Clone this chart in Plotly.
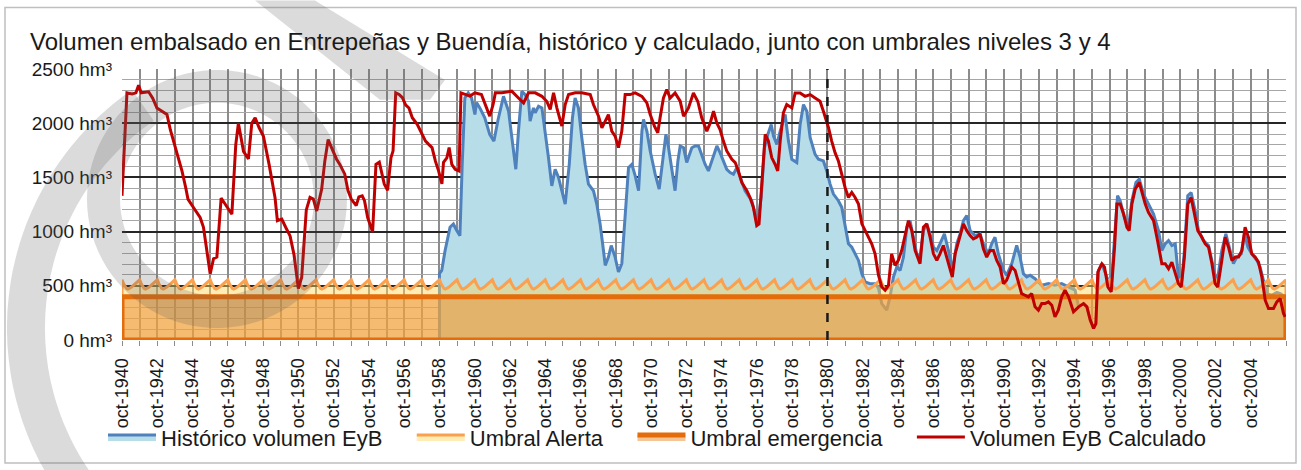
import math
import plotly.graph_objects as go

titulo = "Volumen embalsado en Entrepeñas y Buendía, histórico y calculado, junto con umbrales niveles 3 y 4"

# fechas en años decimales (oct = .75)
anos_calc = [1940.75, 1941.03, 1941.32, 1941.54, 1941.69, 1941.84, 1942.26, 1942.49, 1942.73, 1943.01,
             1943.30, 1943.49, 1943.86, 1944.15, 1944.37, 1944.49, 1944.81, 1945.18, 1945.37, 1945.56,
             1945.75, 1945.94, 1946.13, 1946.37, 1946.60, 1946.98, 1947.20, 1947.35, 1947.64, 1947.92,
             1948.11, 1948.30, 1948.52, 1948.77, 1949.09, 1949.43, 1949.56, 1949.81, 1950.03, 1950.28,
             1950.50, 1950.75, 1950.94, 1951.20, 1951.41, 1951.60, 1951.79, 1952.07, 1952.25, 1952.44,
             1952.63, 1952.91, 1953.10, 1953.38, 1953.56, 1953.75, 1954.03, 1954.18, 1954.37, 1954.50,
             1954.68, 1954.96, 1955.15, 1955.34, 1955.62, 1955.81, 1956.00, 1956.12, 1956.27, 1956.46,
             1956.65, 1956.83, 1957.02, 1957.21, 1957.49, 1957.68, 1957.96, 1958.14, 1958.33, 1958.52,
             1958.70, 1958.89, 1958.98, 1959.17, 1959.30, 1959.45, 1959.64, 1959.86, 1959.97, 1960.48,
             1960.76, 1961.13, 1961.41, 1961.60, 1961.79, 1961.92, 1962.29, 1962.85, 1963.23, 1963.52,
             1963.80, 1964.18, 1964.56, 1964.84, 1965.03, 1965.22, 1965.41, 1965.69, 1965.88, 1966.07,
             1966.45, 1966.82, 1967.30, 1967.48, 1967.77, 1967.96, 1968.15, 1968.33, 1968.52, 1968.71,
             1968.90, 1969.09, 1969.28, 1969.56, 1969.85, 1970.23, 1970.51, 1970.70, 1970.94, 1971.13,
             1971.26, 1971.45, 1971.64, 1971.83, 1972.11, 1972.40, 1972.59, 1972.87, 1973.15, 1973.40,
             1973.62, 1973.91, 1974.10, 1974.29, 1974.48, 1974.66, 1974.85, 1975.04, 1975.33, 1975.52,
             1975.70, 1975.89, 1976.18, 1976.36, 1976.55, 1976.74, 1976.87, 1977.06, 1977.22, 1977.40,
             1977.59, 1977.78, 1977.93, 1978.07, 1978.25, 1978.44, 1978.73, 1978.92, 1979.20, 1979.48,
             1979.77, 1980.05, 1980.33, 1980.52, 1980.81, 1980.99, 1981.18, 1981.37, 1981.56, 1981.75,
             1981.94, 1982.13, 1982.32, 1982.51, 1982.70, 1982.98, 1983.26, 1983.45, 1983.64, 1983.83,
             1984.02, 1984.21, 1984.39, 1984.58, 1984.77, 1984.96, 1985.15, 1985.34, 1985.53, 1985.72,
             1986.00, 1986.19, 1986.38, 1986.57, 1986.76, 1986.95, 1987.13, 1987.32, 1987.51, 1987.70,
             1987.83, 1987.99, 1988.27, 1988.46, 1988.65, 1988.84, 1989.02, 1989.21, 1989.40, 1989.59,
             1989.78, 1989.97, 1990.16, 1990.35, 1990.54, 1990.73, 1990.91, 1991.20, 1991.39, 1991.58,
             1991.76, 1991.95, 1992.14, 1992.33, 1992.52, 1992.71, 1992.90, 1993.09, 1993.28, 1993.47,
             1993.65, 1993.84, 1994.03, 1994.22, 1994.42, 1994.70, 1994.99, 1995.27, 1995.46, 1995.65,
             1995.84, 1995.97, 1996.08, 1996.31, 1996.46, 1996.65, 1996.84, 1997.03, 1997.16, 1997.35,
             1997.54, 1997.73, 1997.86, 1998.01, 1998.20, 1998.43, 1998.61, 1998.77, 1998.95, 1999.24,
             1999.43, 1999.62, 1999.71, 1999.90, 2000.09, 2000.28, 2000.47, 2000.65, 2000.81, 2000.99,
             2001.18, 2001.37, 2001.56, 2001.75, 2001.98, 2002.17, 2002.36, 2002.55, 2002.73, 2002.88,
             2003.11, 2003.30, 2003.49, 2003.68, 2003.87, 2004.06, 2004.25, 2004.43, 2004.62, 2004.81,
             2005.00, 2005.19, 2005.38, 2005.57, 2005.76, 2006.04, 2006.23, 2006.42, 2006.61, 2006.70]
vol_calc = [1330, 2280, 2270, 2280, 2350, 2280, 2290, 2230, 2140, 2110,
            2080, 1940, 1740, 1560, 1400, 1300, 1220, 1130, 1040, 800,
            610, 750, 765, 1310, 1250, 1160, 1800, 2000, 1740, 1670,
            2000, 2050, 1960, 1880, 1620, 1310, 1100, 1115, 1040, 960,
            790, 475, 580, 1200, 1315, 1300, 1190, 1390, 1650, 1850,
            1775, 1670, 1620, 1530, 1380, 1300, 1240, 1320, 1330, 1285,
            1130, 995, 1620, 1640, 1440, 1380, 1680, 1745, 2280, 2265,
            2235, 2170, 2140, 2050, 1990, 1930, 1835, 1805, 1775, 1650,
            1560, 1440, 1640, 1680, 1775, 1620, 1575, 1560, 2280, 2250,
            2280, 2265, 2140, 2065, 2170, 2280, 2280, 2295, 2233, 2187,
            2280, 2280, 2248, 2200, 2126, 2280, 2140, 1973, 2172, 2264,
            2280, 2280, 2264, 2172, 2065, 1958, 2019, 2080, 1927, 1881,
            1774, 1927, 2264, 2264, 2280, 2248, 2187, 2080, 1973, 1912,
            2050, 2233, 2310, 2233, 2280, 2203, 2065, 2141, 2279, 2200,
            2050, 1927, 2000, 2110, 2000, 1942, 1835, 1744, 1667, 1637,
            1560, 1453, 1377, 1315, 1224, 1055, 1070, 1530, 1897, 1835,
            1683, 1621, 1560, 1835, 2096, 2172, 2141, 2279, 2279, 2248,
            2264, 2233, 2203, 2110, 1958, 1835, 1728, 1652, 1530, 1407,
            1315, 1361, 1315, 1254, 1071, 979, 887, 795, 600, 489,
            459, 505, 795, 688, 734, 826, 979, 1101, 1009, 826,
            704, 1040, 1071, 948, 795, 734, 795, 872, 765, 642,
            581, 795, 948, 1071, 1009, 963, 933, 948, 979, 841,
            765, 826, 826, 734, 673, 520, 551, 673, 642, 520,
            428, 413, 398, 428, 306, 275, 336, 336, 352, 321,
            214, 275, 398, 459, 398, 260, 306, 336, 306, 184,
            107, 150, 627, 704, 673, 489, 444, 856, 1254, 1254,
            1162, 1040, 1009, 1254, 1392, 1453, 1346, 1254, 1178, 1101,
            948, 795, 704, 704, 658, 719, 612, 520, 489, 765,
            1254, 1315, 1162, 1009, 948, 887, 856, 704, 520, 489,
            734, 948, 856, 734, 765, 765, 826, 1040, 948, 795,
            765, 719, 581, 367, 291, 291, 352, 382, 245, 214]

anos_hist = [1958.75, 1958.88, 1959.07, 1959.35, 1959.54, 1959.73, 1959.91, 1960.04, 1960.19, 1960.38,
             1960.57, 1960.76, 1960.85, 1961.04, 1961.32, 1961.60, 1961.84, 1962.07, 1962.38, 1962.67,
             1962.95, 1963.08, 1963.23, 1963.42, 1963.61, 1963.80, 1963.89, 1964.08, 1964.18, 1964.37,
             1964.56, 1964.74, 1964.93, 1965.12, 1965.31, 1965.50, 1965.69, 1965.88, 1966.11, 1966.29,
             1966.44, 1966.63, 1966.82, 1967.01, 1967.20, 1967.48, 1967.67, 1967.86, 1968.05, 1968.15,
             1968.33, 1968.49, 1968.71, 1968.90, 1969.09, 1969.32, 1969.47, 1969.66, 1969.85, 1970.04,
             1970.23, 1970.32, 1970.51, 1970.70, 1970.98, 1971.21, 1971.45, 1971.59, 1971.74, 1971.92,
             1972.11, 1972.27, 1972.40, 1972.59, 1972.77, 1973.06, 1973.25, 1973.44, 1973.62, 1973.81,
             1974.00, 1974.19, 1974.48, 1974.66, 1974.85, 1975.04, 1975.23, 1975.42, 1975.61, 1975.80,
             1976.08, 1976.27, 1976.46, 1976.65, 1976.80, 1976.99, 1977.18, 1977.37, 1977.56, 1977.69,
             1977.88, 1978.07, 1978.35, 1978.54, 1978.73, 1979.01, 1979.20, 1979.39, 1979.58, 1979.77,
             1980.05, 1980.24, 1980.52, 1980.71, 1980.90, 1981.09, 1981.37, 1981.56, 1981.75, 1981.94,
             1982.13, 1982.32, 1982.51, 1982.70, 1982.89, 1983.17, 1983.45, 1983.64, 1983.83, 1984.11,
             1984.30, 1984.49, 1984.68, 1984.87, 1985.06, 1985.25, 1985.43, 1985.62, 1985.81, 1986.00,
             1986.19, 1986.38, 1986.57, 1986.76, 1986.95, 1987.13, 1987.38, 1987.61, 1987.83, 1988.08,
             1988.27, 1988.46, 1988.65, 1988.84, 1989.12, 1989.40, 1989.59, 1989.87, 1990.06, 1990.25,
             1990.44, 1990.73, 1990.91, 1991.20, 1991.48, 1991.67, 1991.86, 1992.05, 1992.24, 1992.52,
             1992.90, 1993.28, 1993.65, 1994.03, 1994.41, 1994.79, 1994.99, 1995.27, 1995.46, 1995.65,
             1995.84, 1995.97, 1996.12, 1996.31, 1996.59, 1996.84, 1997.03, 1997.20, 1997.35, 1997.59,
             1997.82, 1998.01, 1998.24, 1998.43, 1998.67, 1998.95, 1999.24, 1999.52, 1999.71, 1999.90,
             2000.09, 2000.28, 2000.47, 2000.65, 2000.81, 2000.99, 2001.18, 2001.37, 2001.60, 2001.79,
             2002.07, 2002.36, 2002.64, 2002.83, 2003.11, 2003.34, 2003.58, 2003.77, 2003.96, 2004.21,
             2004.40, 2004.59, 2004.81, 2005.10, 2005.28, 2005.47, 2005.66, 2005.94, 2006.23, 2006.42,
             2006.70]
vol_hist = [612, 642, 826, 1040, 1070, 1010, 963, 1621, 2233, 2279,
            2233, 2080, 2190, 2141, 2050, 1897, 1835, 2030, 2248, 2110,
            1774, 1575, 1927, 2294, 2264, 2203, 2019, 2141, 2096, 2157,
            2141, 1927, 1683, 1422, 1575, 1500, 1377, 1254, 1621, 2050,
            2233, 2141, 1866, 1621, 1438, 1377, 1254, 1071, 826, 688,
            765, 872, 765, 627, 704, 1254, 1590, 1621, 1514, 1377,
            1927, 2034, 1927, 1744, 1530, 1392, 1683, 1897, 1774, 1560,
            1377, 1652, 1790, 1774, 1637, 1774, 1790, 1790, 1713, 1621,
            1560, 1652, 1790, 1728, 1652, 1575, 1545, 1530, 1590, 1500,
            1377, 1330, 1285, 1162, 1071, 1315, 1774, 1897, 1988, 1881,
            1805, 1927, 2080, 1835, 1667, 1637, 1988, 2172, 2110, 1866,
            1713, 1667, 1652, 1560, 1438, 1346, 1285, 1224, 1071, 887,
            856, 795, 734, 612, 535, 520, 520, 480, 336, 275,
            398, 581, 673, 642, 765, 1040, 1101, 948, 795, 765,
            1009, 1071, 979, 856, 826, 887, 979, 826, 642, 887,
            979, 1101, 1147, 1009, 963, 979, 887, 795, 887, 948,
            795, 642, 597, 704, 872, 765, 612, 581, 597, 566,
            505, 520, 505, 520, 490, 460, 306, 336, 306, 184,
            107, 150, 642, 704, 581, 489, 948, 1331, 1285, 1132,
            1040, 1285, 1453, 1484, 1346, 1254, 1162, 1009, 826, 887,
            918, 872, 887, 581, 489, 826, 1331, 1361, 1193, 1009,
            918, 872, 642, 520, 826, 979, 826, 704, 765, 795,
            979, 856, 795, 734, 673, 551, 428, 413, 440, 428,
            398]

# umbral de alerta: valores mensuales de oct a sep (se repiten cada año hidrológico)
umbral_alerta_mensual = [555, 522, 492, 476, 470, 474, 484, 495, 507, 520, 533, 546]
umbral_emergencia = 400
inicio, fin = 1940.75, 2006.75
fecha_corte = 1980.75
y_ticks = [0, 500, 1000, 1500, 2000, 2500]
x_label_years = list(range(1940, 2005, 2))
nombres = ["Histórico volumen EyB", "Umbral Alerta", "Umbral emergencia", "Volumen EyB Calculado"]

FONT = "Liberation Sans, Arial, sans-serif"
PAD = "\u00a0" * 4  # separación extra entre elementos de la leyenda

fig = go.Figure()

# Histórico (área azul)
fig.add_trace(go.Scatter(
    x=[anos_hist[0]] + anos_hist + [anos_hist[-1], anos_hist[0]],
    y=[0] + vol_hist + [0, 0],
    mode="lines", fill="toself", fillcolor="#B7DDE8",
    line=dict(color="#4F81BD", width=3), name=nombres[0] + PAD,
))

# Umbral alerta (área amarilla)
n_meses = int(round((fin - inicio) * 12))
ax = [inicio + k / 12 for k in range(n_meses + 1)]
ay = [umbral_alerta_mensual[k % 12] for k in range(n_meses + 1)]
fig.add_trace(go.Scatter(
    x=[inicio] + ax + [fin, inicio], y=[0] + ay + [0, 0],
    mode="lines", fill="toself", fillcolor="rgba(255,215,90,0.45)",
    line=dict(color="#FBA04F", width=3), name=nombres[1] + PAD,
))

# Umbral emergencia (área naranja)
fig.add_trace(go.Scatter(
    x=[inicio, inicio, fin, fin, inicio],
    y=[0, umbral_emergencia, umbral_emergencia, 0, 0],
    mode="lines", fill="toself", fillcolor="rgba(235,140,45,0.5)",
    line=dict(color="#E46C0A", width=5), name=nombres[2] + PAD,
))

# Calculado
fig.add_trace(go.Scatter(
    x=anos_calc, y=vol_calc, mode="lines",
    line=dict(color="#C00000", width=3), name=nombres[3],
))

# ---- marca de agua (decoración en píxeles -> coordenadas de papel)
L, R, T, B = 122, 1286, 69, 342
def px2paper(px, py):
    return (px - L) / (R - L), (B - py) / (B - T)

def ring_path(cx, cy, r1, r2, a0=0, a1=360, n=90):
    pts = []
    for i in range(n + 1):
        a = math.radians(a0 + (a1 - a0) * i / n)
        pts.append(px2paper(cx + r2 * math.cos(a), cy - r2 * math.sin(a)))
    for i in range(n, -1, -1):
        a = math.radians(a0 + (a1 - a0) * i / n)
        pts.append(px2paper(cx + r1 * math.cos(a), cy - r1 * math.sin(a)))
    return "M " + " L ".join(f"{x:.4f},{y:.4f}" for x, y in pts) + " Z"

def poly_path(points):
    pts = [px2paper(x, y) for x, y in points]
    return "M " + " L ".join(f"{x:.4f},{y:.4f}" for x, y in pts) + " Z"

wm = "rgba(90,90,90,0.22)"
shapes = [
    dict(type="path", xref="paper", yref="paper", path=ring_path(217, 200, 97, 130),
         fillcolor=wm, line=dict(width=0), layer="above"),
    dict(type="path", xref="paper", yref="paper", path=ring_path(300, 330, 255, 293, 125, 215),
         fillcolor=wm, line=dict(width=0), layer="above"),
    dict(type="path", xref="paper", yref="paper",
         path=poly_path([(255, 0), (315, 0), (445, 80), (430, 100), (380, 100)]),
         fillcolor=wm, line=dict(width=0), layer="above"),
    # línea discontinua oct-1980
    dict(type="line", xref="x", yref="paper", x0=fecha_corte, x1=fecha_corte, y0=0, y1=1,
         line=dict(color="#1a1a1a", width=2.5, dash="dash"), layer="above"),
    # marco exterior
    dict(type="rect", xref="paper", yref="paper",
         x0=px2paper(5, 0)[0], x1=px2paper(1296, 0)[0],
         y0=px2paper(0, 466)[1], y1=px2paper(0, 7)[1],
         line=dict(color="#BFBFBF", width=1.5), layer="below"),
]

fig.update_layout(
    width=1301, height=470,
    margin=dict(l=L, r=1301 - R, t=T, b=470 - B),
    paper_bgcolor="white", plot_bgcolor="white",
    font=dict(family=FONT, color="#1a1a1a"),
    title=dict(text=titulo, x=30 / 1301, xref="container", xanchor="left",
               y=1 - 42 / 470, yref="container", yanchor="middle",
               font=dict(size=24, family=FONT, color="#1a1a1a")),
    showlegend=True,
    legend=dict(orientation="h", x=px2paper(103, 0)[0], xanchor="left", y=(B - 440) / (B - T),
                yanchor="middle", font=dict(size=22, family=FONT), itemwidth=48,
                traceorder="normal", bgcolor="rgba(0,0,0,0)"),
    shapes=shapes,
)

fig.update_xaxes(
    range=[inicio, fin],
    tickvals=[y + 0.75 for y in x_label_years],
    ticktext=[f"oct-{y}" for y in x_label_years],
    tickangle=-90, tickfont=dict(size=18, family=FONT, color="#1a1a1a"),
    ticks="outside", ticklen=5, tickcolor="#8C8C8C", ticklabelstandoff=5,
    showgrid=True, gridcolor="#8C8C8C", gridwidth=1.5,
    minor=dict(tick0=inicio, dtick=1, showgrid=True, gridcolor="#8C8C8C", gridwidth=1.5,
               ticks="outside", ticklen=5, tickcolor="#8C8C8C"),
    showline=False, zeroline=False, fixedrange=True,
)
fig.update_yaxes(
    range=[0, 2500],
    tickvals=y_ticks, ticktext=[f"{v} hm³" for v in y_ticks],
    tickfont=dict(size=19, family=FONT, color="#1a1a1a"),
    ticks="", ticklabelstandoff=9,
    showgrid=True, gridcolor="#262626", gridwidth=1.5,
    minor=dict(dtick=100, showgrid=True, gridcolor="#A6A6A6", gridwidth=1),
    showline=False, zeroline=False, fixedrange=True,
)

fig.write_html("out.html", config={"displayModeBar": False},
               post_script="document.body.style.margin = '0px';")
